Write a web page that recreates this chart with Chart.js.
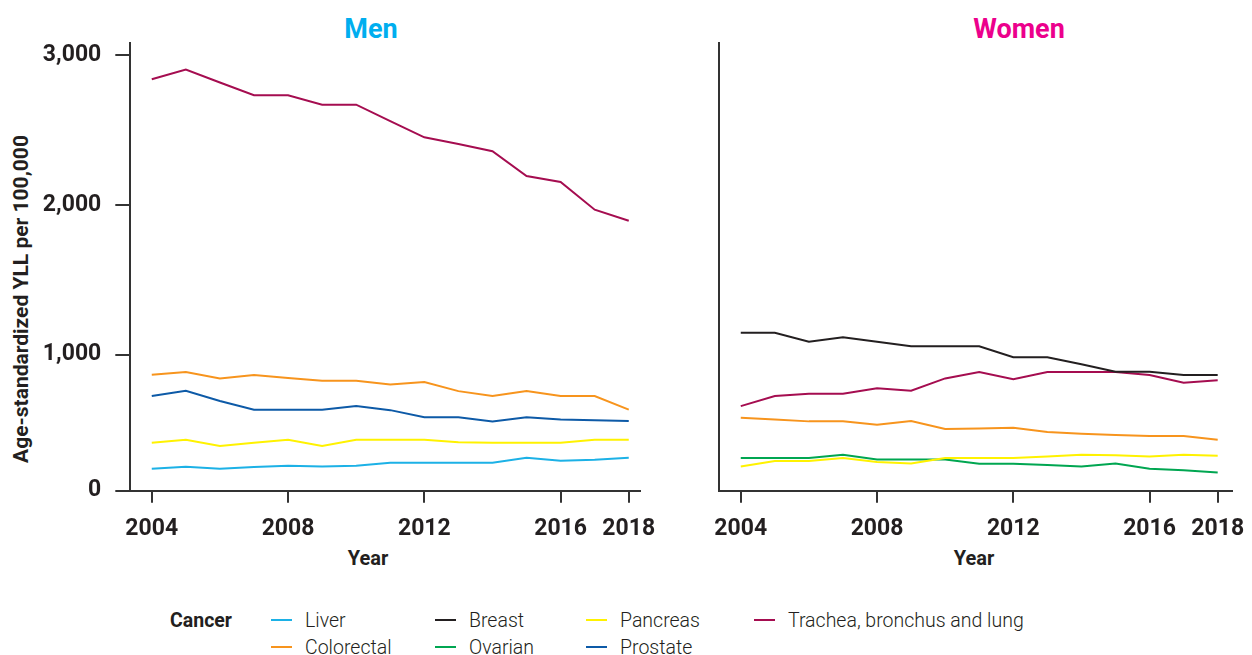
<!DOCTYPE html>
<html lang="en">
<head>
  <meta charset="UTF-8">
  <title>Age-standardized YLL by cancer site, men and women</title>
  <script src="https://cdn.jsdelivr.net/npm/chart.js"></script>
  <style>
    body {
      margin: 0;
      width: 1252px;
      height: 655px;
      position: relative;
      background: #fff;
      font-family: Roboto, sans-serif;
      color: #231f20;
      overflow: hidden;
    }
    canvas { position: absolute; top: 0; }
    .label {
      position: absolute;
      transform: translate(-50%, -50%);
      white-space: nowrap;
      font-weight: 700;
    }
    .panel-title { font-size: 27px; }
    .axis-title { font-size: 20px; }
    .legend-item {
      position: absolute;
      font-size: 19.5px;
      font-weight: 300;
      white-space: nowrap;
      transform: translateY(-50%);
    }
    .legend-swatch {
      position: absolute;
      width: 21px;
      height: 2px;
      transform: translateY(-50%);
    }
  </style>
</head>
<body>
  <div class="label panel-title" style="left:371px; top:29px; color:#00aeef;">Men</div>
  <div class="label panel-title" style="left:1019px; top:29px; color:#ec008c;">Women</div>
  <div class="label axis-title" style="left:21px; top:299px; font-size:21px; transform: translate(-50%, -50%) rotate(-90deg);">Age-standardized YLL per 100,000</div>
  <div class="label axis-title" style="left:368px; top:558px;">Year</div>
  <div class="label axis-title" style="left:974px; top:558px;">Year</div>

  <canvas id="men-chart" width="660" height="600" style="left:0"></canvas>
  <canvas id="women-chart" width="652" height="600" style="left:600px"></canvas>

  <div id="legend"></div>

  <script>
    // years on the x axis
    const years = [2004, 2005, 2006, 2007, 2008, 2009, 2010, 2011, 2012, 2013, 2014, 2015, 2016, 2017, 2018];
    const xTicks = [2004, 2008, 2012, 2016, 2018];
    const yTicks = [0, 1000, 2000, 3000];
    const yTickLabels = ['0', '1,000', '2,000', '3,000'];

    // men, YLL per 100,000
    const menLiver      = [238, 252, 238, 250, 258, 254, 258, 279, 279, 279, 279, 312, 292, 299, 312];
    const menColorectal = [866, 884, 842, 864, 844, 826, 826, 802, 818, 757, 724, 757, 724, 724, 633];
    const menPancreas   = [412, 432, 390, 412, 432, 390, 432, 432, 432, 416, 412, 412, 412, 432, 432];
    const menProstate   = [724, 760, 691, 633, 633, 633, 657, 630, 582, 582, 555, 582, 568, 562, 557];
    const menLung       = [2840, 2904, 2818, 2733, 2733, 2670, 2670, 2560, 2452, 2407, 2359, 2194, 2154, 1969, 1895];

    // women, YLL per 100,000
    const womenBreast     = [1147, 1147, 1087, 1116, 1087, 1056, 1056, 1056, 983, 983, 936, 886, 886, 864, 864];
    const womenLung       = [657, 724, 740, 740, 776, 760, 842, 884, 836, 884, 884, 884, 864, 813, 829];
    const womenColorectal = [579, 568, 555, 555, 532, 557, 504, 508, 512, 484, 472, 464, 457, 457, 432];
    const womenOvarian    = [310, 310, 310, 332, 301, 301, 301, 272, 272, 263, 254, 274, 238, 228, 214];
    const womenPancreas   = [254, 290, 290, 310, 283, 274, 310, 310, 310, 321, 332, 328, 321, 332, 325];

    const colors = {
      Liver: '#1cb1e6',
      Colorectal: '#f7941d',
      Breast: '#231f20',
      Ovarian: '#00a651',
      Pancreas: '#fff200',
      Prostate: '#0d5aa7',
      'Trachea, bronchus and lung': '#a50d50'
    };

    // legend grid, column by column
    const legendCols = [['Liver', 'Colorectal'], ['Breast', 'Ovarian'], ['Pancreas', 'Prostate'], ['Trachea, bronchus and lung']];

    const yMin = 92;     // bottom of the value axis, labelled 0
    const yMax = 3082;
    const axisColor = '#333';
    const tickFont = { family: 'Roboto', size: 23, weight: '700' };

    function series(label, values) {
      return {
        label: label,
        data: values.map((v, i) => ({ x: years[i], y: v })),
        borderColor: colors[label],
        backgroundColor: colors[label],
        borderWidth: 2,
        pointRadius: 0,
        tension: 0,
        fill: false
      };
    }

    function makeChart(canvasId, datasets, opts) {
      return new Chart(document.getElementById(canvasId), {
        type: 'line',
        data: { datasets: datasets },
        options: {
          responsive: false,
          animation: false,
          devicePixelRatio: 1,
          layout: { padding: { top: 43, left: 0, right: 20, bottom: 0 } },
          plugins: { legend: { display: false }, tooltip: { enabled: false } },
          scales: {
            x: {
              type: 'linear',
              min: 2003.37,
              max: opts.xMax,
              afterBuildTicks: axis => { axis.ticks = xTicks.map(v => ({ value: v })); },
              afterFit: axis => {
                axis.height = 109.3;
                // labels may overhang the plot edges; keep the plot width fixed
                axis.paddingLeft = 0;
                axis.paddingRight = 0;
              },
              border: { display: true, color: axisColor, width: 2 },
              grid: { drawOnChartArea: false, drawTicks: true, tickLength: 12, color: axisColor, lineWidth: 2 },
              ticks: {
                font: tickFont,
                color: '#231f20',
                padding: 13,
                maxRotation: 0,
                autoSkip: false,
                callback: value => String(value)
              }
            },
            y: {
              type: 'linear',
              min: yMin,
              max: yMax,
              afterBuildTicks: axis => { axis.ticks = yTicks.map(v => ({ value: Math.max(v, yMin) })); },
              afterFit: axis => {
                axis.width = opts.yWidth;
                axis.paddingTop = 0;
                axis.paddingBottom = 0;
              },
              border: { display: true, color: axisColor, width: 2 },
              grid: { drawOnChartArea: false, drawTicks: opts.showY, tickLength: 15, color: axisColor, lineWidth: 2 },
              ticks: {
                display: opts.showY,
                font: tickFont,
                color: '#231f20',
                padding: 14,
                autoSkip: false,
                callback: (value, index) => yTickLabels[index]
              }
            }
          }
        }
      });
    }

    makeChart('men-chart', [
      series('Liver', menLiver),
      series('Colorectal', menColorectal),
      series('Pancreas', menPancreas),
      series('Prostate', menProstate),
      series('Trachea, bronchus and lung', menLung)
    ], { xMax: 2018.33, yWidth: 130.3, showY: true });

    makeChart('women-chart', [
      series('Breast', womenBreast),
      series('Trachea, bronchus and lung', womenLung),
      series('Colorectal', womenColorectal),
      series('Pancreas', womenPancreas),
      series('Ovarian', womenOvarian)
    ], { xMax: 2018.42, yWidth: 119.3, showY: false });

    // legend below both panels
    const legend = document.getElementById('legend');
    const colLeft = [271, 435, 586, 754];
    const rowTop = [620, 647];
    legend.innerHTML = '<div class="legend-item" style="left:170px; top:620px; font-weight:700;">Cancer</div>';
    legendCols.forEach((col, c) => {
      col.forEach((name, r) => {
        legend.innerHTML +=
          `<div class="legend-swatch" style="left:${colLeft[c]}px; top:${rowTop[r]}px; background:${colors[name]};"></div>` +
          `<div class="legend-item" style="left:${colLeft[c] + 34}px; top:${rowTop[r]}px;">${name}</div>`;
      });
    });
  </script>
</body>
</html>
